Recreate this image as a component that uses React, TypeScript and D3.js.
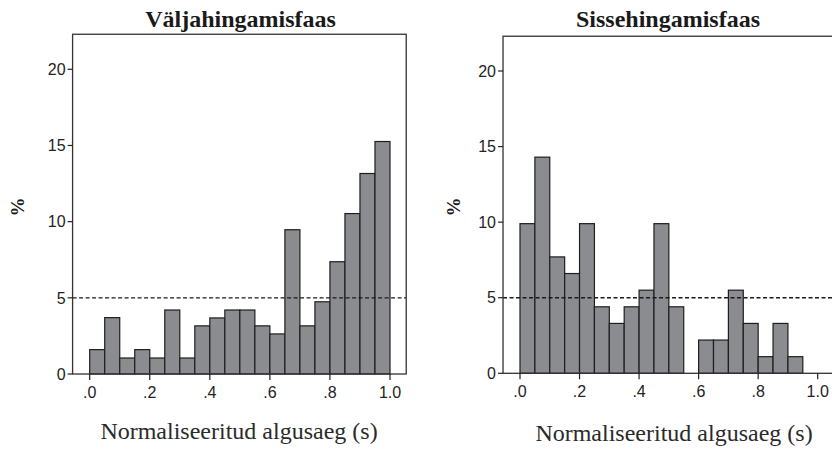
import React from "react";
import * as d3 from "d3";

const binStarts = [0, 0.05, 0.1, 0.15, 0.2, 0.25, 0.3, 0.35, 0.4, 0.45, 0.5, 0.55, 0.6, 0.65, 0.7, 0.75, 0.8, 0.85, 0.9, 0.95];
const binWidth = 0.05;
const exhaleValues = [1.6, 3.7, 1.05, 1.6, 1.05, 4.2, 1.05, 3.16, 3.68, 4.2, 4.2, 3.16, 2.63, 9.47, 3.16, 4.74, 7.37, 10.53, 13.16, 15.26];
const inhaleValues = [9.9, 14.3, 7.7, 6.6, 9.9, 4.4, 3.3, 4.4, 5.5, 9.9, 4.4, 0, 2.2, 2.2, 5.5, 3.3, 1.1, 3.3, 1.1, 0];
const xTicks = [0, 0.2, 0.4, 0.6, 0.8, 1.0];
const xTickLabels = [".0", ".2", ".4", ".6", ".8", "1.0"];
const yTicks = [0, 5, 10, 15, 20];
const refLine = 5;
const titles = ["Väljahingamisfaas", "Sissehingamisfaas"];
const xLabel = "Normaliseeritud algusaeg (s)";
const yLabel = "%";

type PanelProps = {
  values: number[];
  title: string;
  x0: number; x1: number;
  yZero: number; yTwenty: number;
  titleX: number; xLabelX: number; xLabelY: number; yLabelX: number;
};

const sans = "'Liberation Sans', Arial, Helvetica, sans-serif";
const serif = "'Liberation Serif', 'Times New Roman', serif";

function Panel({ values, title, x0, x1, yZero, yTwenty, titleX, xLabelX, xLabelY, yLabelX }: PanelProps) {
  const xDomain = [-0.057, 1.054];
  const x = d3.scaleLinear().domain([0, 1]).range([x0, x1]);
  const y = d3.scaleLinear().domain([0, 20]).range([yZero, yTwenty]);
  const left = x(xDomain[0]);
  const right = x(xDomain[1]);
  const top = y(22.3);
  const bottom = y(0);
  const ink = "#232323";
  return (
    <g>
      <text x={titleX} y={27} textAnchor="middle" fontFamily={serif} fontWeight="bold" fontSize={24} fill="#1a1a1a">{title}</text>
      {values.map((v, i) =>
        v > 0 ? (
          <rect key={i} x={x(binStarts[i])} y={y(v)} width={x(binStarts[i] + binWidth) - x(binStarts[i])} height={y(0) - y(v)}
            fill="#8b8c90" stroke="#1e1e1e" strokeWidth={1.2} />
        ) : null
      )}
      <line x1={left} x2={right} y1={y(refLine)} y2={y(refLine)} stroke="#1a1a1a" strokeWidth={1.3} strokeDasharray="4,2.5" />
      <rect x={left} y={top} width={right - left} height={bottom - top} fill="none" stroke="#333" strokeWidth={1.3} />
      {yTicks.map((t) => (
        <g key={t}>
          <line x1={left - 5} x2={left} y1={y(t)} y2={y(t)} stroke={ink} strokeWidth={1.2} />
          <text x={left - 7} y={y(t)} dy="0.36em" textAnchor="end" fontFamily={sans} fontSize={16} fill={ink}>{t}</text>
        </g>
      ))}
      {xTicks.map((t, i) => (
        <g key={t}>
          <line x1={x(t)} x2={x(t)} y1={bottom} y2={bottom + 6} stroke={ink} strokeWidth={1.2} />
          <text x={x(t)} y={bottom + 24} textAnchor="middle" fontFamily={sans} fontSize={16} fill={ink}>{xTickLabels[i]}</text>
        </g>
      ))}
      <text x={xLabelX} y={xLabelY} textAnchor="middle" fontFamily={serif} fontSize={24} fill="#2a2a2a">{xLabel}</text>
      <text transform={`translate(${yLabelX},207) rotate(-90)`} textAnchor="middle" dy="0.35em" fontFamily={serif} fontWeight="bold" fontSize={19} fill="#1a1a1a">{yLabel}</text>
    </g>
  );
}

export default function App() {
  return (
    <svg width={832} height={449} style={{ position: "absolute", left: 0, top: 0, background: "#fff" }}>
      <rect width={832} height={449} fill="#fff" />
      <Panel values={exhaleValues} title={titles[0]} x0={89.7} x1={390} yZero={374} yTwenty={69.3} titleX={240.5} xLabelX={239} xLabelY={439} yLabelX={17} />
      <Panel values={inhaleValues} title={titles[1]} x0={520} x1={817.7} yZero={373.3} yTwenty={71} titleX={668} xLabelX={674} xLabelY={441} yLabelX={453} />
    </svg>
  );
}
